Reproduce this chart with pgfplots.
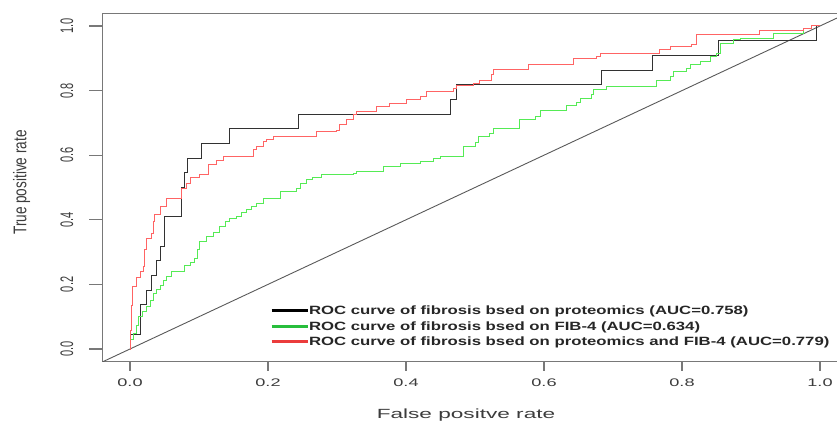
\documentclass[border=0pt]{standalone}
\usepackage{fontspec}
\setmainfont{Liberation Sans}
\usepackage{graphicx}
\usepackage{pgfplots}
\pgfplotsset{compat=1.18}
\definecolor{rocblack}{RGB}{50,50,50}
\definecolor{rocgreen}{RGB}{85,235,85}
\definecolor{rocred}{RGB}{255,100,100}
\definecolor{leggreen}{RGB}{40,190,60}
\definecolor{legred}{RGB}{235,60,60}
\definecolor{boxgray}{RGB}{120,120,120}
\definecolor{txtgray}{RGB}{60,60,60}
% the reference is stretched sideways, so text is stretched too
\newcommand{\sx}[2][1.65]{\scalebox{#1}[1]{#2}}
\newcommand{\sy}[2][1.65]{\scalebox{1}[#1]{#2}}

\begin{document}
\begin{tikzpicture}
\begin{axis}[
  at={(102.4pt,61.08pt)}, anchor=south west,
  scale only axis, width=745.2pt, height=348.84pt,
  xmin=-0.04, xmax=1.04, ymin=-0.04, ymax=1.04,
  axis line style={boxgray, line width=1.1pt},
  tick style={boxgray, line width=1.1pt},
  tick align=outside, xtick pos=bottom, ytick pos=left,
  major tick length=9pt,
  ytick style={/pgfplots/major tick length=13pt},
  xtick={0,0.2,0.4,0.6,0.8,1}, ytick={0,0.2,0.4,0.6,0.8,1},
  xticklabel={\sx{\pgfmathprintnumber[fixed,fixed zerofill,precision=1,assume math mode=true]{\tick}}},
  yticklabel={\sy{\pgfmathprintnumber[fixed,fixed zerofill,precision=1,assume math mode=true]{\tick}}},
  xticklabel style={font=\fontsize{11}{13}\selectfont, text=txtgray, anchor=north, inner sep=0pt},
  yticklabel style={font=\fontsize{11}{13}\selectfont, text=txtgray, rotate=90, anchor=south, inner sep=0pt},
  xticklabel shift=8pt, yticklabel shift=20pt,
  xlabel={\sx[1.7]{False positve rate}},
  ylabel={\sy[1.35]{True positive rate}},
  xlabel style={at={(axis description cs:0.4879,-0.1636)}, anchor=base, font=\fontsize{13.3}{15}\selectfont, text=txtgray, inner sep=0pt},
  ylabel style={at={(axis description cs:-0.1083,0.5143)}, anchor=center, font=\fontsize{13.6}{15}\selectfont, text=txtgray, inner sep=0pt},
  legend style={at={(axis cs:0.2029,0.1387)}, anchor=north west, draw=none, fill=none,
    inner sep=0pt, outer sep=0pt, row sep=0pt, column sep=0pt,
    font=\bfseries\fontsize{12}{14}\selectfont, text=black!85,
    nodes={inner sep=0pt, text height=10.5pt, text depth=5pt}},
  legend cell align=left,
  legend image code/.code={\draw[#1, line width=3pt] (0pt,1pt) -- (36pt,1pt);},
]
\addplot[forget plot, black!65, line width=0.9pt] coordinates {(-0.04,-0.04) (1.04,1.04)};

% proteomics
\addplot[forget plot, rocblack, line width=1pt, const plot] coordinates {
(0,0) (0,0.0455) (0.0145,0.1364) (0.0242,0.1818) (0.0314,0.2273) (0.0377,0.2727)
(0.0435,0.3182) (0.0507,0.4091) (0.0749,0.5) (0.0797,0.5455) (0.0833,0.5909)
(0.1029,0.6364) (0.1439,0.6818) (0.2442,0.7273) (0.4638,0.7727) (0.4732,0.8182)
(0.6836,0.8636) (0.7575,0.9091) (0.8526,0.9545) (0.9952,1) (1,1)};

% FIB-4
\addplot[forget plot, rocgreen, line width=1pt, const plot] coordinates {
(0,0) (0.0014,0.0279) (0.0048,0.0486) (0.0087,0.0743) (0.0120,0.1000) (0.0188,0.1176)
(0.0242,0.1310) (0.0290,0.1517) (0.0338,0.1724) (0.0391,0.1827) (0.0435,0.1981)
(0.0483,0.2136) (0.0536,0.2260) (0.0604,0.2393) (0.0797,0.2570) (0.0870,0.2663)
(0.0928,0.2817) (0.0971,0.3065) (0.1014,0.3322) (0.1112,0.3477) (0.1203,0.3622)
(0.1304,0.3786) (0.1391,0.3932) (0.1449,0.4025) (0.1546,0.4096) (0.1609,0.4211)
(0.1691,0.4334) (0.1768,0.4427) (0.1836,0.4511) (0.1932,0.4666) (0.2188,0.4870)
(0.2406,0.4969) (0.2478,0.5139) (0.2551,0.5263) (0.2638,0.5325) (0.2778,0.5387)
(0.3236,0.5440) (0.3286,0.5489) (0.3671,0.5635) (0.3913,0.5743) (0.4203,0.5805)
(0.4396,0.5904) (0.4493,0.5954) (0.4830,0.6263) (0.5000,0.6378) (0.5048,0.6573)
(0.5217,0.6687) (0.5265,0.6833) (0.5652,0.7090) (0.5870,0.7183) (0.5942,0.7399)
(0.6329,0.7554) (0.6474,0.7616) (0.6522,0.7762) (0.6691,0.7864) (0.6714,0.8019)
(0.6909,0.8121) (0.7633,0.8328) (0.7826,0.8430) (0.7874,0.8585) (0.8068,0.8690)
(0.8116,0.8793) (0.8261,0.8895) (0.8406,0.9050) (0.8493,0.9155) (0.8551,0.9464)
(0.8743,0.9567) (0.8841,0.9619) (0.9323,0.9774) (0.9758,0.9929) (0.9880,1) (1,1)};

% proteomics and FIB-4
\addplot[forget plot, rocred, line width=1pt, const plot] coordinates {
(0,0) (0.0007,0.0588) (0.0022,0.1362) (0.0043,0.1920) (0.0087,0.2229) (0.0145,0.2384)
(0.0193,0.2548) (0.0217,0.3065) (0.0242,0.3427) (0.0314,0.3582) (0.0338,0.3932)
(0.0362,0.4149) (0.0435,0.4406) (0.0532,0.4666) (0.0749,0.4975) (0.0812,0.5139)
(0.0884,0.5325) (0.1014,0.5387) (0.1135,0.5697) (0.1257,0.5851) (0.1352,0.5954)
(0.1787,0.6161) (0.1836,0.6263) (0.1932,0.6418) (0.1981,0.6471) (0.2077,0.6573)
(0.2706,0.6728) (0.2996,0.6780) (0.3043,0.6935) (0.3141,0.7090) (0.3236,0.7245)
(0.3286,0.7347) (0.3575,0.7502) (0.3768,0.7607) (0.4010,0.7709) (0.4203,0.7811)
(0.4300,0.7966) (0.4686,0.8071) (0.4735,0.8173) (0.4975,0.8226) (0.5072,0.8328)
(0.5242,0.8483) (0.5265,0.8638) (0.5772,0.8793) (0.6425,0.9000) (0.6764,0.9050)
(0.6812,0.9155) (0.7681,0.9257) (0.7826,0.9359) (0.8141,0.9412) (0.8213,0.9752)
(0.9130,0.9876) (0.9758,0.9929) (0.9880,1) (1,1)};

\addlegendimage{black}
\addlegendentry{\sx[1.395]{ROC curve of fibrosis bsed on proteomics (AUC=0.758)}}
\addlegendimage{leggreen}
\addlegendentry{\sx[1.395]{ROC curve of fibrosis bsed on FIB-4 (AUC=0.634)}}
\addlegendimage{legred}
\addlegendentry{\sx[1.395]{ROC curve of fibrosis bsed on proteomics and FIB-4 (AUC=0.779)}}
\end{axis}
\pgfresetboundingbox
\path[use as bounding box] (0pt,0pt) rectangle (837pt,423pt);
\end{tikzpicture}
\end{document}
